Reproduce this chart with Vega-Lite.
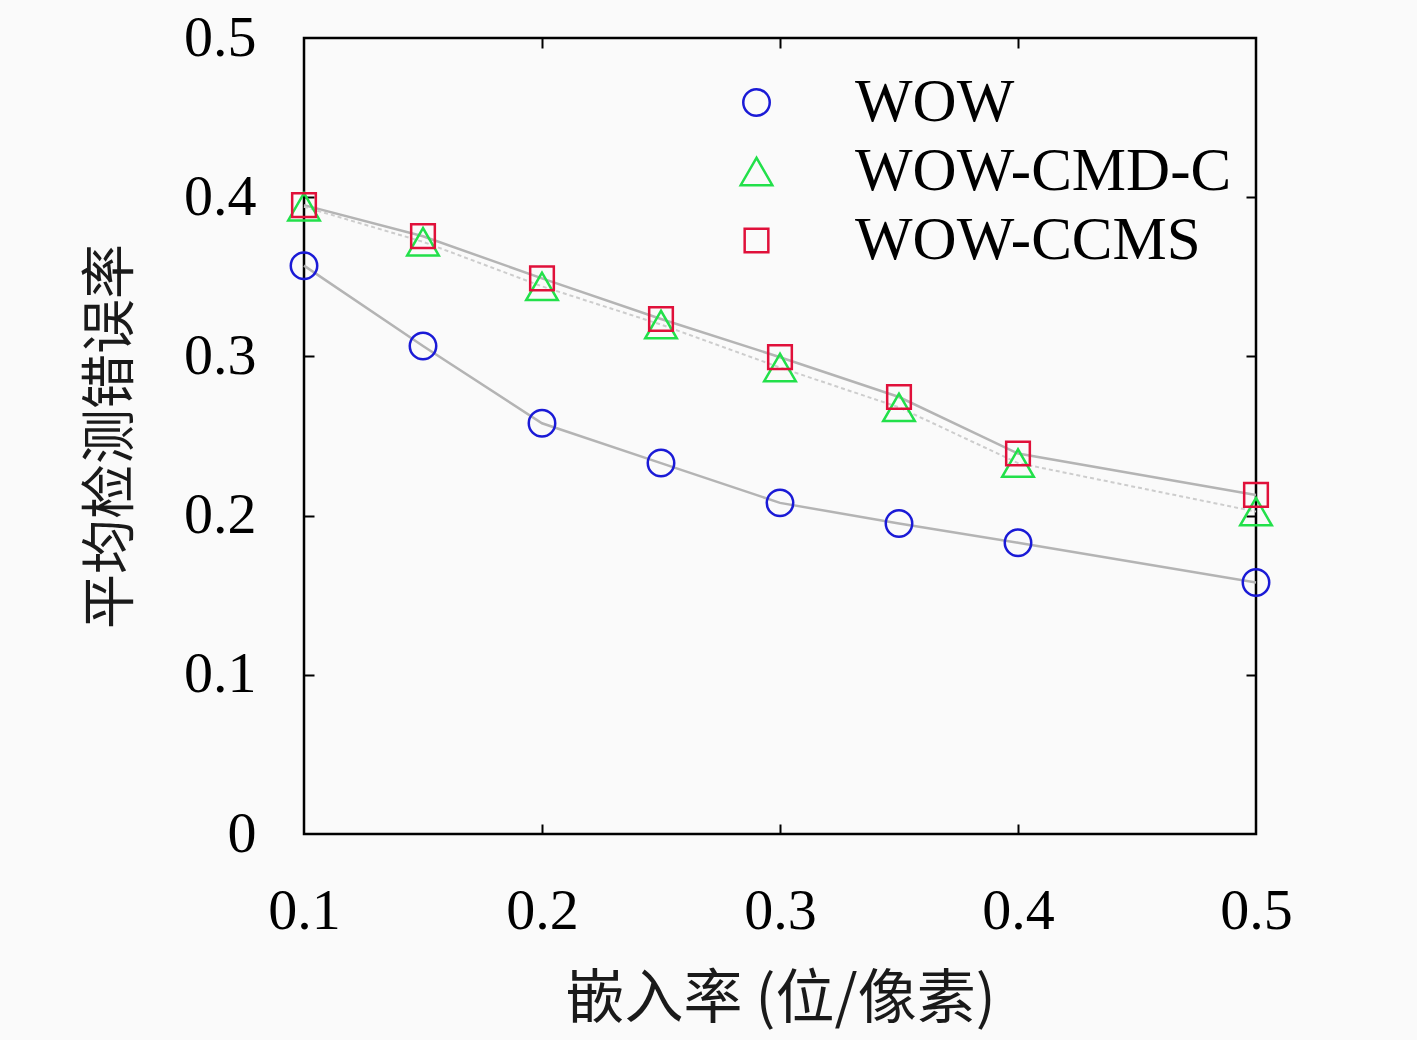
{
  "$schema": "https://vega.github.io/schema/vega-lite/v6.json",
  "width": 952,
  "height": 796,
  "autosize": {"type": "none"},
  "padding": {"left": 304, "top": 38, "right": 161, "bottom": 206},
  "background": "#fafafa",
  "config": {
    "view": {"stroke": "black", "strokeWidth": 2.5, "fill": "#fafafa"},
    "axis": {
      "domain": false,
      "grid": false,
      "tickColor": "black",
      "tickWidth": 2,
      "labelFont": "Liberation Serif",
      "labelFontSize": 58,
      "labelColor": "black",
      "labelFlush": false,
      "titleFont": "Noto Sans CJK SC",
      "titleFontSize": 55,
      "titleFontWeight": "normal",
      "titleColor": "#1a1a1a"
    }
  },
  "data": {
    "values": [
      {"rate": 0.1, "err": 0.357, "series": "WOW"},
      {"rate": 0.15, "err": 0.3065, "series": "WOW"},
      {"rate": 0.2, "err": 0.258, "series": "WOW"},
      {"rate": 0.25, "err": 0.233, "series": "WOW"},
      {"rate": 0.3, "err": 0.208, "series": "WOW"},
      {"rate": 0.35, "err": 0.195, "series": "WOW"},
      {"rate": 0.4, "err": 0.183, "series": "WOW"},
      {"rate": 0.5, "err": 0.158, "series": "WOW"},
      {"rate": 0.1, "err": 0.394, "series": "WOW-CMD-C"},
      {"rate": 0.15, "err": 0.372, "series": "WOW-CMD-C"},
      {"rate": 0.2, "err": 0.344, "series": "WOW-CMD-C"},
      {"rate": 0.25, "err": 0.32, "series": "WOW-CMD-C"},
      {"rate": 0.3, "err": 0.293, "series": "WOW-CMD-C"},
      {"rate": 0.35, "err": 0.268, "series": "WOW-CMD-C"},
      {"rate": 0.4, "err": 0.233, "series": "WOW-CMD-C"},
      {"rate": 0.5, "err": 0.2025, "series": "WOW-CMD-C"},
      {"rate": 0.1, "err": 0.395, "series": "WOW-CCMS"},
      {"rate": 0.15, "err": 0.3755, "series": "WOW-CCMS"},
      {"rate": 0.2, "err": 0.349, "series": "WOW-CCMS"},
      {"rate": 0.25, "err": 0.3235, "series": "WOW-CCMS"},
      {"rate": 0.3, "err": 0.2995, "series": "WOW-CCMS"},
      {"rate": 0.35, "err": 0.2745, "series": "WOW-CCMS"},
      {"rate": 0.4, "err": 0.239, "series": "WOW-CCMS"},
      {"rate": 0.5, "err": 0.213, "series": "WOW-CCMS"}
    ]
  },
  "layer": [
    {
      "transform": [{"filter": "datum.series !== 'WOW-CMD-C'"}],
      "mark": {"type": "line", "color": "#b4b4b4", "strokeWidth": 2.5},
      "encoding": {
        "x": {
          "field": "rate", "type": "quantitative",
          "scale": {"domain": [0.1, 0.5], "nice": false, "zero": false},
          "axis": {
            "orient": "bottom",
            "values": [0.1, 0.2, 0.3, 0.4, 0.5],
            "format": ".1f",
            "tickSize": 0,
            "labelPadding": 48,
            "title": "嵌入率 (位/像素)",
            "titleFontSize": 59,
            "titlePadding": 30
          }
        },
        "y": {
          "field": "err", "type": "quantitative",
          "scale": {"domain": [0, 0.5], "nice": false, "zero": true},
          "axis": {
            "orient": "left",
            "values": [0, 0.1, 0.2, 0.3, 0.4, 0.5],
            "labelExpr": "datum.value === 0 ? '0' : format(datum.value, '.1f')",
            "tickSize": 0,
            "labelPadding": 48,
            "title": "平均检测错误率",
            "titlePadding": 44
          }
        },
        "detail": {"field": "series"}
      }
    },
    {
      "transform": [{"filter": "datum.series === 'WOW-CMD-C'"}],
      "mark": {"type": "line", "color": "#cdcdcd", "strokeWidth": 2, "strokeDash": [4, 3]},
      "encoding": {
        "x": {"field": "rate", "type": "quantitative", "axis": null},
        "y": {"field": "err", "type": "quantitative", "axis": null}
      }
    },
    {
      "mark": {"type": "point", "filled": false, "strokeWidth": 2.5, "clip": false, "opacity": 1},
      "encoding": {
        "x": {
          "field": "rate", "type": "quantitative",
          "axis": {"orient": "top", "values": [0.2, 0.3, 0.4], "labels": false, "tickSize": -10, "title": null}
        },
        "y": {
          "field": "err", "type": "quantitative",
          "axis": {"orient": "right", "values": [0.1, 0.2, 0.3, 0.4], "labels": false, "tickSize": -10, "title": null}
        },
        "shape": {
          "field": "series", "type": "nominal",
          "scale": {"domain": ["WOW", "WOW-CMD-C", "WOW-CCMS"], "range": ["circle", "triangle-up", "square"]},
          "legend": {
            "title": null,
            "orient": "none",
            "legendX": 422,
            "legendY": 34,
            "padding": 0,
            "symbolSize": 800,
            "symbolStrokeWidth": 2.5,
            "labelFont": "Liberation Serif",
            "labelFontSize": 61,
            "labelColor": "black",
            "labelOffset": 68,
            "labelLimit": 600,
            "rowPadding": 7
          }
        },
        "color": {
          "field": "series", "type": "nominal",
          "scale": {"domain": ["WOW", "WOW-CMD-C", "WOW-CCMS"], "range": ["#1a1ad6", "#22e04a", "#e0103a"]},
          "legend": {
            "title": null,
            "orient": "none",
            "legendX": 422,
            "legendY": 34,
            "padding": 0,
            "symbolSize": 800,
            "symbolStrokeWidth": 2.5,
            "labelFont": "Liberation Serif",
            "labelFontSize": 61,
            "labelColor": "black",
            "labelOffset": 68,
            "labelLimit": 600,
            "rowPadding": 7
          }
        },
        "size": {
          "field": "series", "type": "nominal",
          "scale": {"type": "ordinal", "domain": ["WOW", "WOW-CMD-C", "WOW-CCMS"], "range": [700, 1000, 560]},
          "legend": null
        },
        "order": {"field": "series", "sort": "descending"}
      }
    },
    {
      "mark": {"type": "point", "opacity": 0},
      "encoding": {
        "x": {
          "field": "rate", "type": "quantitative",
          "axis": {"orient": "bottom", "values": [0.2, 0.3, 0.4], "labels": false, "tickSize": -10, "title": null}
        },
        "y": {
          "field": "err", "type": "quantitative",
          "axis": {"orient": "left", "values": [0.1, 0.2, 0.3, 0.4], "labels": false, "tickSize": -10, "title": null}
        }
      }
    }
  ],
  "resolve": {"axis": {"x": "independent", "y": "independent"}}
}
